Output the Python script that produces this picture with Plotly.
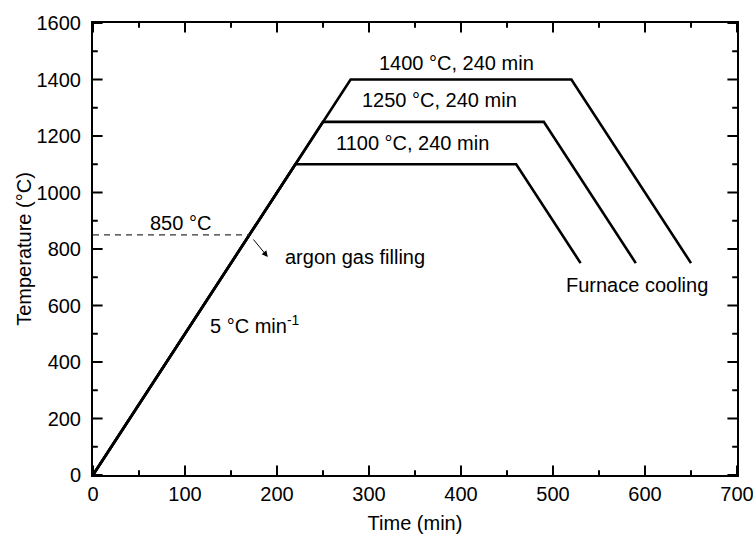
import plotly.graph_objects as go

# Heat-treatment schedules: heating at 5 °C/min, 240 min hold, furnace cooling
time_1100 = [0, 220, 460, 530]
temp_1100 = [0, 1100, 1100, 750]
time_1250 = [0, 250, 490, 590]
temp_1250 = [0, 1250, 1250, 750]
time_1400 = [0, 280, 520, 650]
temp_1400 = [0, 1400, 1400, 750]

# Argon filling threshold
argon_time = [0, 170]
argon_temp = [850, 850]

x_ticks = [0, 100, 200, 300, 400, 500, 600, 700]
y_ticks = [0, 200, 400, 600, 800, 1000, 1200, 1400, 1600]

FONT = "Liberation Sans, Arial, sans-serif"
FS = 20
W, H = 753, 534
M = dict(l=93, r=16, t=23, b=59)

fig = go.Figure()
for t, T in [(time_1100, temp_1100), (time_1250, temp_1250), (time_1400, temp_1400)]:
    fig.add_trace(go.Scatter(x=t, y=T, mode="lines",
                             line=dict(color="black", width=2.6),
                             showlegend=False, hoverinfo="skip"))
fig.add_trace(go.Scatter(x=argon_time, y=argon_temp, mode="lines",
                         line=dict(color="#333333", width=1.4, dash="6px,5px"),
                         showlegend=False, hoverinfo="skip"))

labels = [
    (395, 1458, "1400 °C, 240 min"),
    (377, 1327, "1250 °C, 240 min"),
    (347, 1175, "1100 °C, 240 min"),
    (95, 892, "850 °C"),
    (591, 673, "Furnace cooling"),
    (176, 531, "5 °C min<sup>-1</sup>"),
]
for x, y, s in labels:
    fig.add_annotation(x=x, y=y, text=s, showarrow=False,
                       font=dict(family=FONT, size=FS, color="black"))

fig.add_annotation(x=206, y=772, text="argon gas filling", showarrow=False,
                   xanchor="left", font=dict(family=FONT, size=FS, color="black"))
fig.add_annotation(x=190, y=772, ax=173, ay=839, axref="x", ayref="y",
                   text="", showarrow=True, arrowhead=2, arrowsize=1.2,
                   arrowwidth=1, arrowcolor="black")

x_step = x_ticks[1] - x_ticks[0]
y_step = y_ticks[1] - y_ticks[0]
x0, x1 = x_ticks[0], x_ticks[-1]
y0, y1 = y_ticks[0], y_ticks[-1]

# Data units per screen pixel inside the plotting area
ux = (x1 - x0) / (W - M["l"] - M["r"])
uy = (y1 - y0) / (H - M["t"] - M["b"])

# Inward tick marks on all four sides as short vertical / horizontal markers
major_x = x_ticks
minor_x = [v + x_step / 2 for v in x_ticks[:-1]]
major_y = y_ticks
minor_y = [v + y_step / 2 for v in y_ticks[:-1]]


def tick_trace(xs, ys, symbol, size):
    return go.Scatter(x=xs, y=ys, mode="markers", cliponaxis=False,
                      marker=dict(symbol=symbol, size=size, color="black",
                                  line=dict(color="black", width=2)),
                      showlegend=False, hoverinfo="skip")


for vals, ln in [(major_x, 8), (minor_x, 4)]:
    off = ln / 2 * uy
    fig.add_trace(tick_trace(vals, [y0 + off] * len(vals), "line-ns", ln))
    fig.add_trace(tick_trace(vals, [y1 - off] * len(vals), "line-ns", ln))
for vals, ln in [(major_y, 8), (minor_y, 4)]:
    off = ln / 2 * ux
    fig.add_trace(tick_trace([x0 + off] * len(vals), vals, "line-ew", ln))
    fig.add_trace(tick_trace([x1 - off] * len(vals), vals, "line-ew", ln))

frame = dict(showline=True, linecolor="black", linewidth=2, mirror=True,
             ticks="", showgrid=False, zeroline=False, automargin=False,
             ticklabeloverflow="allow",
             tickfont=dict(family=FONT, size=FS, color="black"))

fig.update_xaxes(range=[x0, x1], tickvals=x_ticks,
                 title=dict(text="Time (min)",
                            font=dict(family=FONT, size=FS, color="black")),
                 **frame)
fig.update_yaxes(range=[y0, y1], tickvals=y_ticks,
                 ticklabelstandoff=6,
                 title=dict(text="Temperature (°C)",
                            font=dict(family=FONT, size=FS, color="black")),
                 **frame)

fig.update_layout(template="none", width=W, height=H, margin=M,
                  plot_bgcolor="white", paper_bgcolor="white",
                  font=dict(family=FONT, size=FS, color="black"))

fig.write_html("out.html")
